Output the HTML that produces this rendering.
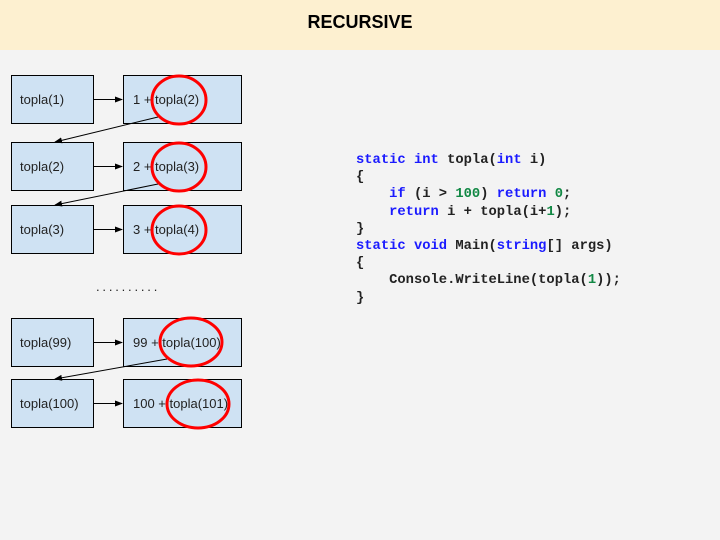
<!DOCTYPE html>
<html><head><style>
body{margin:0;width:720px;height:540px;background:#f3f3f3;position:relative;overflow:hidden;font-family:"Liberation Sans",Arial,sans-serif}
.hdr{position:absolute;left:0;top:0;width:720px;height:50px;background:#fdf0d0;text-align:center;line-height:44px;font-weight:bold;font-size:18px;color:#000}
pre{position:absolute;left:356px;top:152px;margin:0;font-family:"Liberation Mono",monospace;font-weight:bold;font-size:13.8px;line-height:17.2px;color:#222}
.k{color:#1a1aff}.n{color:#118844}
</style></head><body>
<div class="hdr">RECURSIVE</div>
<svg width="720" height="540" style="position:absolute;left:0;top:0">
<defs><marker id="a" markerWidth="8" markerHeight="6" refX="7" refY="3" orient="auto"><path d="M0,0L8,3L0,6z" fill="#000"/></marker></defs>
<g fill="#cfe2f3" stroke="#000" stroke-width="1">
<rect x="11.5" y="75.5" width="82" height="48"/><rect x="123.5" y="75.5" width="118" height="48"/>
<rect x="11.5" y="142.5" width="82" height="48"/><rect x="123.5" y="142.5" width="118" height="48"/>
<rect x="11.5" y="205.5" width="82" height="48"/><rect x="123.5" y="205.5" width="118" height="48"/>
<rect x="11.5" y="318.5" width="82" height="48"/><rect x="123.5" y="318.5" width="118" height="48"/>
<rect x="11.5" y="379.5" width="82" height="48"/><rect x="123.5" y="379.5" width="118" height="48"/>
</g>
<g font-size="13" fill="#222" font-family="Liberation Sans,Arial,sans-serif">
<text x="20" y="104">topla(1)</text><text x="133" y="104">1 + topla(2)</text>
<text x="20" y="171">topla(2)</text><text x="133" y="171">2 + topla(3)</text>
<text x="20" y="234">topla(3)</text><text x="133" y="234">3 + topla(4)</text>
<text x="20" y="347">topla(99)</text><text x="133" y="347">99 + topla(100)</text>
<text x="20" y="408">topla(100)</text><text x="133" y="408">100 + topla(101)</text>
<text x="96" y="291" letter-spacing="2.8">..........</text>
</g>
<g stroke="#000" stroke-width="1" marker-end="url(#a)">
<line x1="93" y1="99.5" x2="122" y2="99.5"/>
<line x1="93" y1="166.5" x2="122" y2="166.5"/>
<line x1="93" y1="229.5" x2="122" y2="229.5"/>
<line x1="93" y1="342.5" x2="122" y2="342.5"/>
<line x1="93" y1="403.5" x2="122" y2="403.5"/>
<line x1="158" y1="117" x2="55" y2="142"/>
<line x1="158" y1="184" x2="55" y2="205"/>
<line x1="167" y1="359" x2="55" y2="379"/>
</g>
<g fill="none" stroke="#f00" stroke-width="3">
<ellipse cx="179" cy="100" rx="27" ry="24"/>
<ellipse cx="179" cy="167" rx="27" ry="24"/>
<ellipse cx="179" cy="230" rx="27" ry="24"/>
<ellipse cx="191" cy="342" rx="31" ry="24"/>
<ellipse cx="198" cy="404" rx="31" ry="24"/>
</g>
</svg>
<pre><span class="k">static int</span> topla(<span class="k">int</span> i)
{
    <span class="k">if</span> (i &gt; <span class="n">100</span>) <span class="k">return</span> <span class="n">0</span>;
    <span class="k">return</span> i + topla(i+<span class="n">1</span>);
}
<span class="k">static void</span> Main(<span class="k">string</span>[] args)
{
    Console.WriteLine(topla(<span class="n">1</span>));
}</pre>
</body></html>
